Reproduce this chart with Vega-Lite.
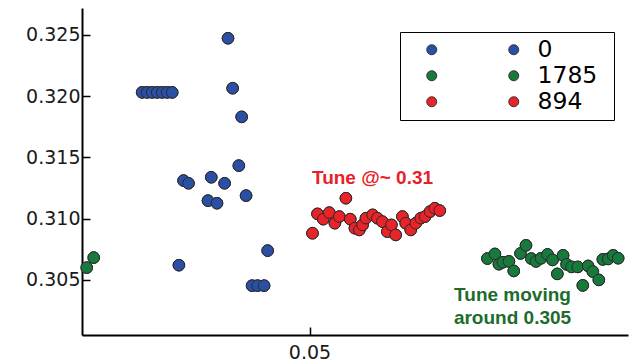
{
  "$schema": "https://vega.github.io/schema/vega-lite/v6.json",
  "width": 546,
  "height": 327,
  "autosize": "none",
  "padding": {"left": 82, "top": 8, "right": 2, "bottom": 28},
  "background": "white",
  "config": {
    "view": {"stroke": null},
    "axis": {
      "grid": false,
      "title": null,
      "domainColor": "#000",
      "domainWidth": 2,
      "tickColor": "#000",
      "tickWidth": 1.5,
      "tickSize": -8,
      "labelFont": "DejaVu Sans",
      "labelFontSize": 19,
      "labelColor": "#1a1a1a"
    }
  },
  "datasets": {
    "points": [
      {"x": 0.01322, "y": 0.32031, "tune": "0"},
      {"x": 0.01432, "y": 0.32031, "tune": "0"},
      {"x": 0.01542, "y": 0.32031, "tune": "0"},
      {"x": 0.01652, "y": 0.32031, "tune": "0"},
      {"x": 0.01762, "y": 0.32031, "tune": "0"},
      {"x": 0.01872, "y": 0.32031, "tune": "0"},
      {"x": 0.01982, "y": 0.32031, "tune": "0"},
      {"x": 0.03209, "y": 0.32473, "tune": "0"},
      {"x": 0.03311, "y": 0.32065, "tune": "0"},
      {"x": 0.03509, "y": 0.31831, "tune": "0"},
      {"x": 0.03447, "y": 0.31433, "tune": "0"},
      {"x": 0.02231, "y": 0.31311, "tune": "0"},
      {"x": 0.02341, "y": 0.31289, "tune": "0"},
      {"x": 0.02841, "y": 0.31338, "tune": "0"},
      {"x": 0.03134, "y": 0.31289, "tune": "0"},
      {"x": 0.02769, "y": 0.31147, "tune": "0"},
      {"x": 0.02967, "y": 0.31126, "tune": "0"},
      {"x": 0.03606, "y": 0.31188, "tune": "0"},
      {"x": 0.04081, "y": 0.30739, "tune": "0"},
      {"x": 0.02130, "y": 0.30620, "tune": "0"},
      {"x": 0.03738, "y": 0.30453, "tune": "0"},
      {"x": 0.03861, "y": 0.30453, "tune": "0"},
      {"x": 0.04002, "y": 0.30453, "tune": "0"},
      {"x": 0.00104, "y": 0.30600, "tune": "1785"},
      {"x": 0.00258, "y": 0.30682, "tune": "1785"},
      {"x": 0.08910, "y": 0.30674, "tune": "1785"},
      {"x": 0.09075, "y": 0.30712, "tune": "1785"},
      {"x": 0.09163, "y": 0.30628, "tune": "1785"},
      {"x": 0.09251, "y": 0.30644, "tune": "1785"},
      {"x": 0.09383, "y": 0.30651, "tune": "1785"},
      {"x": 0.09489, "y": 0.30573, "tune": "1785"},
      {"x": 0.09637, "y": 0.30716, "tune": "1785"},
      {"x": 0.09758, "y": 0.30782, "tune": "1785"},
      {"x": 0.09874, "y": 0.30674, "tune": "1785"},
      {"x": 0.09978, "y": 0.30651, "tune": "1785"},
      {"x": 0.10088, "y": 0.30676, "tune": "1785"},
      {"x": 0.10231, "y": 0.30708, "tune": "1785"},
      {"x": 0.10341, "y": 0.30663, "tune": "1785"},
      {"x": 0.10447, "y": 0.30549, "tune": "1785"},
      {"x": 0.10573, "y": 0.30700, "tune": "1785"},
      {"x": 0.10650, "y": 0.30627, "tune": "1785"},
      {"x": 0.10760, "y": 0.30606, "tune": "1785"},
      {"x": 0.10896, "y": 0.30606, "tune": "1785"},
      {"x": 0.11007, "y": 0.30455, "tune": "1785"},
      {"x": 0.11123, "y": 0.30614, "tune": "1785"},
      {"x": 0.11227, "y": 0.30568, "tune": "1785"},
      {"x": 0.11359, "y": 0.30500, "tune": "1785"},
      {"x": 0.11447, "y": 0.30667, "tune": "1785"},
      {"x": 0.11564, "y": 0.30671, "tune": "1785"},
      {"x": 0.11674, "y": 0.30700, "tune": "1785"},
      {"x": 0.11784, "y": 0.30677, "tune": "1785"},
      {"x": 0.05066, "y": 0.30881, "tune": "894"},
      {"x": 0.05176, "y": 0.31039, "tune": "894"},
      {"x": 0.05302, "y": 0.30996, "tune": "894"},
      {"x": 0.05434, "y": 0.31049, "tune": "894"},
      {"x": 0.05557, "y": 0.30963, "tune": "894"},
      {"x": 0.05654, "y": 0.31017, "tune": "894"},
      {"x": 0.05800, "y": 0.31167, "tune": "894"},
      {"x": 0.05896, "y": 0.30996, "tune": "894"},
      {"x": 0.05998, "y": 0.30922, "tune": "894"},
      {"x": 0.06095, "y": 0.30908, "tune": "894"},
      {"x": 0.06167, "y": 0.30949, "tune": "894"},
      {"x": 0.06240, "y": 0.31004, "tune": "894"},
      {"x": 0.06388, "y": 0.31031, "tune": "894"},
      {"x": 0.06491, "y": 0.31004, "tune": "894"},
      {"x": 0.06601, "y": 0.30976, "tune": "894"},
      {"x": 0.06711, "y": 0.30894, "tune": "894"},
      {"x": 0.06800, "y": 0.30949, "tune": "894"},
      {"x": 0.06894, "y": 0.30867, "tune": "894"},
      {"x": 0.07042, "y": 0.31017, "tune": "894"},
      {"x": 0.07115, "y": 0.30963, "tune": "894"},
      {"x": 0.07225, "y": 0.30908, "tune": "894"},
      {"x": 0.07335, "y": 0.30963, "tune": "894"},
      {"x": 0.07445, "y": 0.31004, "tune": "894"},
      {"x": 0.07540, "y": 0.31017, "tune": "894"},
      {"x": 0.07650, "y": 0.31058, "tune": "894"},
      {"x": 0.07753, "y": 0.31085, "tune": "894"},
      {"x": 0.07863, "y": 0.31066, "tune": "894"}
    ],
    "notes": [
      {"x": 0.06385, "y": 0.31333, "text": "Tune @~ 0.31", "tune": "894"},
      {"x": 0.09462, "y": 0.30378, "text": "Tune moving", "tune": "1785"},
      {"x": 0.09462, "y": 0.30190, "text": "around 0.305", "tune": "1785"}
    ]
  },
  "layer": [
    {
      "data": {"name": "points"},
      "mark": {"type": "point", "filled": true, "size": 135, "stroke": "#2b2b2b", "strokeWidth": 1, "opacity": 1},
      "encoding": {
        "x": {"field": "x", "type": "quantitative", "scale": {"domain": [0, 0.12], "nice": false, "zero": false}, "axis": {"title": null, "values": [0.05], "format": ".2f", "labelPadding": 16}},
        "y": {"field": "y", "type": "quantitative", "scale": {"domain": [0.3005, 0.3272], "nice": false, "zero": false}, "axis": {"title": null, "values": [0.305, 0.31, 0.315, 0.32, 0.325], "format": ".3f", "labelPadding": 10}},
        "color": {
          "field": "tune", "type": "nominal",
          "scale": {"domain": ["0", "1785", "894"], "range": ["#2a4fa5", "#177a3c", "#e8242a"]},
          "legend": {
            "orient": "none", "legendX": 318, "legendY": 24, "title": ".",
            "titleOrient": "right", "titleOpacity": 0, "titleFontSize": 10, "titlePadding": 8,
            "strokeColor": "#000", "padding": 6,
            "symbolType": "circle", "symbolSize": 100, "symbolStrokeColor": "#333", "symbolStrokeWidth": 1,
            "symbolOffset": 14, "labelOffset": 94, "rowPadding": 1,
            "labelFont": "DejaVu Sans", "labelFontSize": 23.5, "labelColor": "#000"
          }
        }
      }
    },
    {
      "data": {"name": "points"},
      "mark": {"type": "point", "filled": true, "size": 135, "stroke": "#2b2b2b", "strokeWidth": 1, "opacity": 1},
      "encoding": {
        "x": {"field": "x", "type": "quantitative", "axis": {"title": null, "values": [0.05], "format": ".2f", "labelPadding": 16}},
        "y": {"field": "y", "type": "quantitative", "axis": {"title": null, "values": [0.305, 0.31, 0.315, 0.32, 0.325], "format": ".3f", "labelPadding": 10}},
        "color": {
          "field": "tune", "type": "nominal",
          "scale": {"domain": ["0", "1785", "894"], "range": ["#2a4fa5", "#177a3c", "#e8242a"]},
          "legend": {
            "orient": "none", "legendX": 400, "legendY": 24, "title": null,
            "padding": 6,
            "symbolType": "circle", "symbolSize": 100, "symbolStrokeColor": "#333", "symbolStrokeWidth": 1,
            "symbolOffset": 14, "labelOffset": 2, "rowPadding": 1,
            "labelFont": "DejaVu Sans", "labelFontSize": 23.5, "labelOpacity": 0,
            "labelExpr": "' '"
          }
        }
      }
    },
    {
      "data": {"name": "notes"},
      "mark": {"type": "text", "font": "Liberation Sans", "fontWeight": "bold", "fontSize": 19, "align": "center", "baseline": "middle"},
      "encoding": {
        "x": {"field": "x", "type": "quantitative", "axis": {"title": null, "values": [0.05], "format": ".2f", "labelPadding": 16}},
        "y": {"field": "y", "type": "quantitative", "axis": {"title": null, "values": [0.305, 0.31, 0.315, 0.32, 0.325], "format": ".3f", "labelPadding": 10}},
        "text": {"field": "text"},
        "color": {"field": "tune", "type": "nominal", "scale": {"domain": ["894", "1785"], "range": ["#e8202a", "#1d6b2d"]}, "legend": null}
      }
    }
  ],
  "resolve": {"scale": {"color": "independent"}}
}
